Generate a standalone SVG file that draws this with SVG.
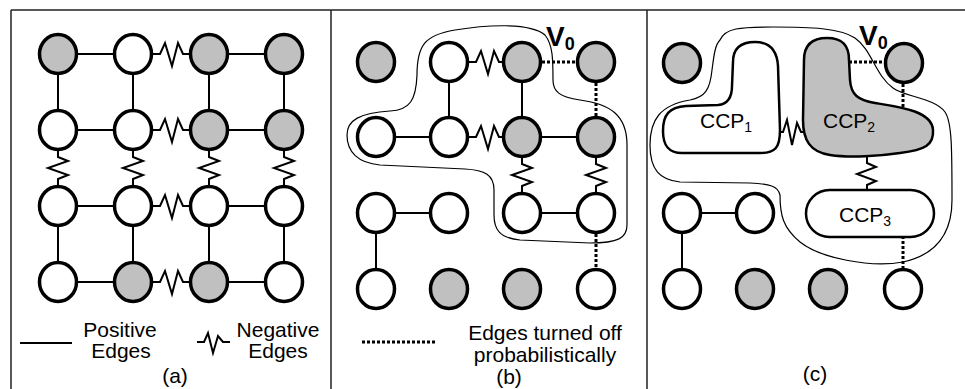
<svg xmlns="http://www.w3.org/2000/svg" width="965" height="389" viewBox="0 0 965 389">
  <style>
    .n { fill:#fff; stroke:#000; stroke-width:3.5; }
    .g { fill:#c0c0c0; }
    .e { fill:none; stroke:#000; stroke-width:2; }
    .z { fill:none; stroke:#000; stroke-width:2; stroke-linejoin:miter; }
    .d { fill:none; stroke:#000; stroke-width:3; stroke-dasharray:3 2; }
    .hull { fill:none; stroke:#000; stroke-width:1.2; }
    .ccp { stroke:#000; stroke-width:2.5; }
    .frame { fill:none; stroke:#222; stroke-width:1.5; }
    .t { font-family:"Liberation Sans", Arial, Helvetica, sans-serif; font-size:21px; fill:#000; }
    .v { font-family:"Liberation Sans", Arial, Helvetica, sans-serif; font-weight:bold; font-size:28px; fill:#000; }
  </style>

  <!-- panel frame -->
  <g id="frame" class="frame">
    <path d="M11,10 H965 M11,10 V389 M331,10 V389 M647,10 V389"/>
  </g>

  <!-- ===== panel (a) ===== -->
  <g id="a-edges">
    <!-- rows: solid / negative / solid -->
    <path class="e" d="M78,54 H113 M229,54 H264 M78,130 H113 M229,130 H264 M78,206 H113 M229,206 H264 M78,282 H113 M229,282 H264"/>
    <path class="z" d="M153,54 H160 L165,43 L172,66 L178,43 L183,54 H189"/>
    <path class="z" d="M153,130 H160 L165,119 L172,142 L178,119 L183,130 H189"/>
    <path class="z" d="M153,206 H160 L165,195 L172,218 L178,195 L183,206 H189"/>
    <path class="z" d="M153,282 H160 L165,271 L172,294 L178,271 L183,282 H189"/>
    <!-- columns -->
    <path class="e" d="M58,75 V109 M133,75 V109 M209,75 V109 M284,75 V109 M58,227 V261 M133,227 V261 M209,227 V261 M284,227 V261"/>
    <path class="z" d="M58,151 V157 L68,161 L48,168 L68,175 L58,179 V185"/>
    <path class="z" d="M133,151 V157 L143,161 L123,168 L143,175 L133,179 V185"/>
    <path class="z" d="M209,151 V157 L219,161 L199,168 L219,175 L209,179 V185"/>
    <path class="z" d="M284,151 V157 L294,161 L274,168 L294,175 L284,179 V185"/>
  </g>
  <g id="a-n11"><ellipse class="n g" cx="58" cy="54" rx="18.5" ry="19.5"/></g>
  <g id="a-n12"><ellipse class="n" cx="133" cy="54" rx="18.5" ry="19.5"/></g>
  <g id="a-n13"><ellipse class="n g" cx="209" cy="54" rx="18.5" ry="19.5"/></g>
  <g id="a-n14"><ellipse class="n g" cx="284" cy="54" rx="18.5" ry="19.5"/></g>
  <g id="a-n21"><ellipse class="n" cx="58" cy="130" rx="18.5" ry="19.5"/></g>
  <g id="a-n22"><ellipse class="n" cx="133" cy="130" rx="18.5" ry="19.5"/></g>
  <g id="a-n23"><ellipse class="n g" cx="209" cy="130" rx="18.5" ry="19.5"/></g>
  <g id="a-n24"><ellipse class="n g" cx="284" cy="130" rx="18.5" ry="19.5"/></g>
  <g id="a-n31"><ellipse class="n" cx="58" cy="206" rx="18.5" ry="19.5"/></g>
  <g id="a-n32"><ellipse class="n" cx="133" cy="206" rx="18.5" ry="19.5"/></g>
  <g id="a-n33"><ellipse class="n" cx="209" cy="206" rx="18.5" ry="19.5"/></g>
  <g id="a-n34"><ellipse class="n" cx="284" cy="206" rx="18.5" ry="19.5"/></g>
  <g id="a-n41"><ellipse class="n" cx="58" cy="282" rx="18.5" ry="19.5"/></g>
  <g id="a-n42"><ellipse class="n g" cx="133" cy="282" rx="18.5" ry="19.5"/></g>
  <g id="a-n43"><ellipse class="n g" cx="209" cy="282" rx="18.5" ry="19.5"/></g>
  <g id="a-n44"><ellipse class="n" cx="284" cy="282" rx="18.5" ry="19.5"/></g>

  <!-- legend (a) -->
  <g id="a-legend">
    <path class="e" d="M20,343 H72"/>
    <path class="z" d="M197,342 H204 L208,333 L213,353 L218,336 L223,342 H230"/>
    <text class="t" x="120" y="337" text-anchor="middle">Positive</text>
    <text class="t" x="121" y="358" text-anchor="middle">Edges</text>
    <text class="t" x="278" y="337" text-anchor="middle">Negative</text>
    <text class="t" x="278" y="358" text-anchor="middle">Edges</text>
    <text class="t" x="175" y="383" text-anchor="middle">(a)</text>
  </g>

  <!-- ===== panel (b) ===== -->
  <g id="b-edges">
    <path class="hull" d="M417,75 C417,45 425,35 455,30 C485,25 530,22 545,35 C553,45 553,60 553,80 C553,92 560,97 580,100 C610,104 627,115 627,145 L627,225 C627,238 618,243 590,243 L520,240 C500,238 494,230 494,215 L494,190 C494,175 485,170 465,169 L380,165 C358,163 347,152 347,135 C347,120 360,113 390,111 C410,110 416,100 417,75 Z"/>
    <path class="z" d="M469,62 H476 L481,51 L488,74 L494,51 L499,62 H503"/>
    <path class="z" d="M469,137 H476 L481,126 L488,149 L494,126 L499,137 H503"/>
    <path class="d" d="M542,62 H576 M596,83 V116 M596,234 V268"/>
    <path class="e" d="M449,83 V116 M522,83 V116 M396,137 H429 M542,137 H576 M396,213 H429 M542,213 H576 M376,234 V268"/>
    <path class="z" d="M522,158 V164 L532,168 L512,175 L532,182 L522,186 V192"/>
    <path class="z" d="M596,158 V164 L606,168 L586,175 L606,182 L596,186 V192"/>
  </g>
  <g id="b-n11"><ellipse class="n g" cx="376" cy="62" rx="18.5" ry="19.5"/></g>
  <g id="b-n12"><ellipse class="n" cx="449" cy="62" rx="18.5" ry="19.5"/></g>
  <g id="b-n13"><ellipse class="n g" cx="522" cy="62" rx="18.5" ry="19.5"/></g>
  <g id="b-v0">
    <ellipse class="n g" cx="596" cy="62" rx="18.5" ry="19.5"/>
    <text class="v" x="546" y="46">V<tspan font-size="18" dy="4">0</tspan></text>
  </g>
  <g id="b-n21"><ellipse class="n" cx="376" cy="137" rx="18.5" ry="19.5"/></g>
  <g id="b-n22"><ellipse class="n" cx="449" cy="137" rx="18.5" ry="19.5"/></g>
  <g id="b-n23"><ellipse class="n g" cx="522" cy="137" rx="18.5" ry="19.5"/></g>
  <g id="b-n24"><ellipse class="n g" cx="596" cy="137" rx="18.5" ry="19.5"/></g>
  <g id="b-n31"><ellipse class="n" cx="376" cy="213" rx="18.5" ry="19.5"/></g>
  <g id="b-n32"><ellipse class="n" cx="449" cy="213" rx="18.5" ry="19.5"/></g>
  <g id="b-n33"><ellipse class="n" cx="522" cy="213" rx="18.5" ry="19.5"/></g>
  <g id="b-n34"><ellipse class="n" cx="596" cy="213" rx="18.5" ry="19.5"/></g>
  <g id="b-n41"><ellipse class="n" cx="376" cy="289" rx="18.5" ry="19.5"/></g>
  <g id="b-n42"><ellipse class="n g" cx="449" cy="289" rx="18.5" ry="19.5"/></g>
  <g id="b-n43"><ellipse class="n g" cx="522" cy="289" rx="18.5" ry="19.5"/></g>
  <g id="b-n44"><ellipse class="n" cx="596" cy="289" rx="18.5" ry="19.5"/></g>

  <!-- legend (b) -->
  <g id="b-legend">
    <path class="d" d="M362,342 H437"/>
    <text class="t" x="545" y="340" text-anchor="middle">Edges turned off</text>
    <text class="t" x="545" y="362" text-anchor="middle">probabilistically</text>
    <text class="t" x="509" y="384" text-anchor="middle">(b)</text>
  </g>

  <!-- ===== panel (c) ===== -->
  <g id="c-edges">
    <path class="hull" d="M720,40 C725,28 740,27 773,27 C810,27 840,28 855,38 C872,50 875,75 893,88 C905,97 935,98 945,112 C952,122 952,150 952,200 C952,235 935,255 903,262 C870,268 820,258 800,242 C783,228 780,215 780,195 C778,186 770,184 750,183 L680,182 C660,180 650,170 650,145 C650,120 660,105 690,100 C705,97 710,90 712,70 C714,55 715,45 720,40 Z"/>
    <path class="d" d="M849,62 H885 M903,84 V108 M903,236 V268"/>
    <path class="z" d="M779,132 H783 L787,120 L792,145 L797,123 L801,132 H805"/>
    <path class="z" d="M867,156 V163 L876,167 L857,174 L876,181 L867,185 V190"/>
    <path class="e" d="M702,213 H735 M682,234 V268"/>
  </g>
  <g id="c-ccp1">
    <path class="ccp" fill="#fff" d="M733,62 C733,46 743,42 755,42 C770,42 777,50 778,66 L780,130 C780,148 775,153 760,153 L682,153 C668,153 663,145 663,131 C663,115 669,107 686,106 L718,105 C729,104 732,96 732,86 Z"/>
    <text class="t" x="700" y="128" font-size="22">CCP<tspan font-size="14" dy="4">1</tspan></text>
  </g>
  <g id="c-ccp2">
    <path class="ccp" fill="#c0c0c0" d="M804,60 C804,43 814,38 827,38 C842,38 849,45 849,60 L850,80 C851,95 858,100 875,103 C900,107 932,111 933,130 C934,145 925,150 900,153 C880,156 850,158 830,155 C810,152 803,140 803,120 Z"/>
    <text class="t" x="823" y="128" font-size="22">CCP<tspan font-size="14" dy="4">2</tspan></text>
  </g>
  <g id="c-ccp3">
    <rect class="ccp" fill="#fff" x="806" y="190" width="128" height="47" rx="23.5"/>
    <text class="t" x="839" y="222" font-size="22">CCP<tspan font-size="14" dy="4">3</tspan></text>
  </g>
  <g id="c-n11"><ellipse class="n g" cx="682" cy="63" rx="18.5" ry="19.5"/></g>
  <g id="c-v0">
    <ellipse class="n g" cx="904" cy="63" rx="18.5" ry="19.5"/>
    <text class="v" x="859" y="45">V<tspan font-size="18" dy="4">0</tspan></text>
  </g>
  <g id="c-n31"><ellipse class="n" cx="682" cy="213" rx="18.5" ry="19.5"/></g>
  <g id="c-n32"><ellipse class="n" cx="755" cy="213" rx="18.5" ry="19.5"/></g>
  <g id="c-n41"><ellipse class="n" cx="682" cy="289" rx="18.5" ry="19.5"/></g>
  <g id="c-n42"><ellipse class="n g" cx="755" cy="289" rx="18.5" ry="19.5"/></g>
  <g id="c-n43"><ellipse class="n g" cx="828" cy="289" rx="18.5" ry="19.5"/></g>
  <g id="c-n44"><ellipse class="n" cx="903" cy="289" rx="18.5" ry="19.5"/></g>

  <g id="c-label">
    <text class="t" x="815" y="381" text-anchor="middle">(c)</text>
  </g>
</svg>
